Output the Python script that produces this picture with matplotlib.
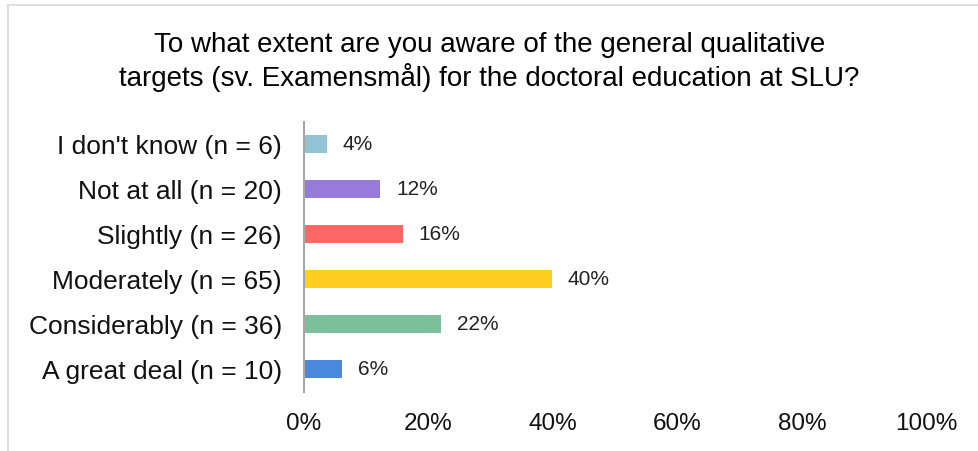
import matplotlib.pyplot as plt
from matplotlib.lines import Line2D

plt.rcParams['font.family'] = ['Liberation Sans', 'DejaVu Sans']

# answers, bottom to top as drawn
categories = ["A great deal", "Considerably", "Moderately", "Slightly", "Not at all", "I don't know"]
counts = [10, 36, 65, 26, 20, 6]
colors = ["#4A89DC", "#7BC09A", "#FDCD1F", "#FF6666", "#977ADA", "#92C4D6"]
xticks = [0, 20, 40, 60, 80, 100]

title = ("To what extent are you aware of the general qualitative\n"
         "targets (sv. Examensmål) for the doctoral education at SLU?")

total = sum(counts)
shares = [100 * c / total for c in counts]
labels = [f"{c} (n = {n})" for c, n in zip(categories, counts)]

fig = plt.figure(figsize=(9.79, 4.51), dpi=100)
ax = fig.add_axes([0.3105, 0.131, 0.636, 0.599])

y = range(len(categories))
ax.barh(y, shares, height=0.4, color=colors)
for yi, s in zip(y, shares):
    ax.text(s + 2.5, yi, f"{s:.0f}%", va="center", ha="left", fontsize=15, color="#222222")

ax.set_xlim(0, 100)
ax.set_ylim(-0.5, len(categories) - 0.5)
ax.set_yticks(list(y))
ax.set_yticklabels(labels, fontsize=19)
ax.set_xticks(xticks)
ax.set_xticklabels([f"{t}%" for t in xticks], fontsize=17.5)
ax.tick_params(axis="both", length=0, colors="#111111")
ax.tick_params(axis="x", pad=15)
ax.tick_params(axis="y", pad=16)
for side in ["top", "right", "bottom"]:
    ax.spines[side].set_visible(False)
ax.spines["left"].set_color("#A6A6A6")
ax.spines["left"].set_linewidth(1.5)

fig.text(0.5, 0.862, title, ha="center", va="center", fontsize=20, linespacing=1.2)

# light frame at the top and left
fig.add_artist(Line2D([0.008, 1], [0.989, 0.989], color="#D9D9D9", lw=1.2))
fig.add_artist(Line2D([0.008, 0.008], [0, 0.989], color="#D9D9D9", lw=1.2))

fig.savefig("out.png", dpi=100)
